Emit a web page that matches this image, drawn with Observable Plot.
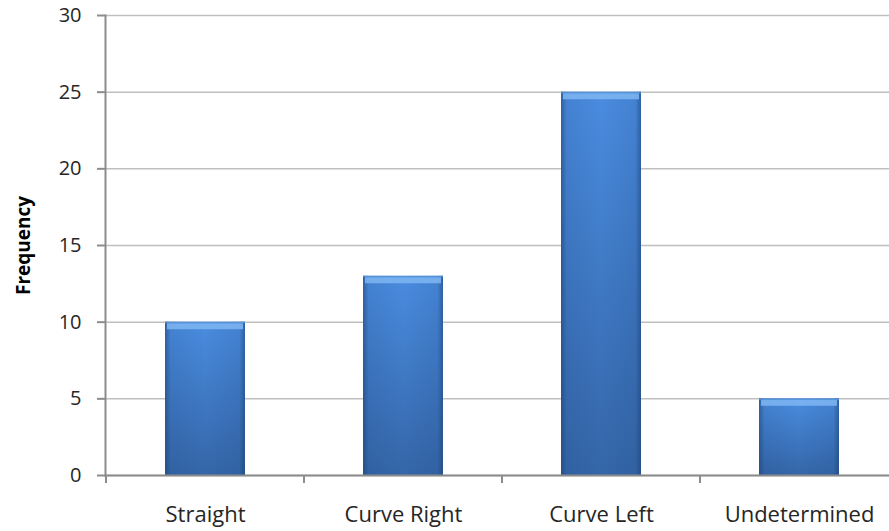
<!DOCTYPE html>
<html>
<head>
<meta charset="utf-8">
<script src="https://cdn.jsdelivr.net/npm/d3@7"></script>
<script src="https://cdn.jsdelivr.net/npm/@observablehq/plot@0.6"></script>
<style>
  html, body { margin: 0; padding: 0; background: #fff; }
  #chart svg { display: block; overflow: visible; }
</style>
</head>
<body>
<div id="chart"></div>
<script>
const categories = ["Straight", "Curve Right", "Curve Left", "Undetermined"];
const frequencies = [10, 13, 25, 5];
const yTicks = [0, 5, 10, 15, 20, 25, 30];
const yLabel = "Frequency";

const data = categories.map((c, i) => ({category: c, value: frequencies[i]}));

const boundaryTicks = (index, scales, values, dims) => {
  const g = d3.create("svg:g");
  const x = scales.x;
  const positions = categories.map(c => x(c));
  positions.push(dims.width - dims.marginRight);
  const y0 = scales.y(0);
  for (const px of positions) {
    g.append("line")
      .attr("x1", px).attr("x2", px)
      .attr("y1", y0).attr("y2", y0 + 8)
      .attr("stroke", "#8c8c8c").attr("stroke-width", 2);
  }
  return g.node();
};

const plot = Plot.plot({
  width: 889,
  height: 531,
  marginTop: 15,
  marginBottom: 56,
  marginLeft: 105,
  marginRight: -10,
  style: {fontFamily: "Open Sans", color: "#262626", background: "#fff"},
  x: {domain: categories, padding: 0, label: null},
  y: {domain: [0, 30], label: null},
  marks: [
    Plot.gridY(yTicks, {stroke: "#bfbfbf", strokeOpacity: 1, strokeWidth: 1.5}),
    Plot.axisY(yTicks, {tickSize: 8, tickPadding: 16, fontSize: 20, stroke: "#8c8c8c", strokeWidth: 2, label: null}),
    Plot.axisX({tickSize: 0, tickPadding: 31, fontSize: 22, label: null}),
    Plot.text([yLabel], {frameAnchor: "left", textAnchor: "middle", dx: -82, rotate: -90, fontWeight: "bold", fontSize: 19, fill: "#000"}),
    Plot.barY(data, {x: "category", y: "value", insetLeft: 59, insetRight: 59, fill: "url(#vgrad)"}),
    Plot.barY(data, {x: "category", y: "value", insetLeft: 59, insetRight: 59, fill: "url(#hgrad)"}),
    Plot.tickY(data, {x: "category", y: "value", insetLeft: 61, insetRight: 61, dy: 4, stroke: "#7fb6f2", strokeWidth: 6, strokeOpacity: 0.85}),
    Plot.tickY(data, {x: "category", y: "value", insetLeft: 59, insetRight: 59, dy: 0.5, stroke: "#5a96dc", strokeWidth: 1}),
    Plot.frame({anchor: "left", stroke: "#8c8c8c", strokeWidth: 2}),
    Plot.frame({anchor: "bottom", stroke: "#8c8c8c", strokeWidth: 2}),
    boundaryTicks
  ]
});

const svg = d3.select(plot);
svg.selectAll('g[aria-label="y-axis tick label"] text').style("font-size", "20px");
svg.selectAll('g[aria-label="x-axis tick label"] text').style("font-size", "22px");
const defs = svg.insert("defs", ":first-child");
const v = defs.append("linearGradient").attr("id", "vgrad").attr("x1", 0).attr("y1", 0).attr("x2", 0).attr("y2", 1);
v.append("stop").attr("offset", "0%").attr("stop-color", "#4a8ce0");
v.append("stop").attr("offset", "100%").attr("stop-color", "#3466a8");
const h = defs.append("linearGradient").attr("id", "hgrad").attr("x1", 0).attr("y1", 0).attr("x2", 1).attr("y2", 0);
h.append("stop").attr("offset", "0%").attr("stop-color", "#1a3c6e").attr("stop-opacity", 0.55);
h.append("stop").attr("offset", "7%").attr("stop-color", "#1a3c6e").attr("stop-opacity", 0.12);
h.append("stop").attr("offset", "50%").attr("stop-color", "#1a3c6e").attr("stop-opacity", 0);
h.append("stop").attr("offset", "93%").attr("stop-color", "#1a3c6e").attr("stop-opacity", 0.12);
h.append("stop").attr("offset", "100%").attr("stop-color", "#1a3c6e").attr("stop-opacity", 0.55);

document.getElementById("chart").appendChild(plot);
</script>
</body>
</html>
